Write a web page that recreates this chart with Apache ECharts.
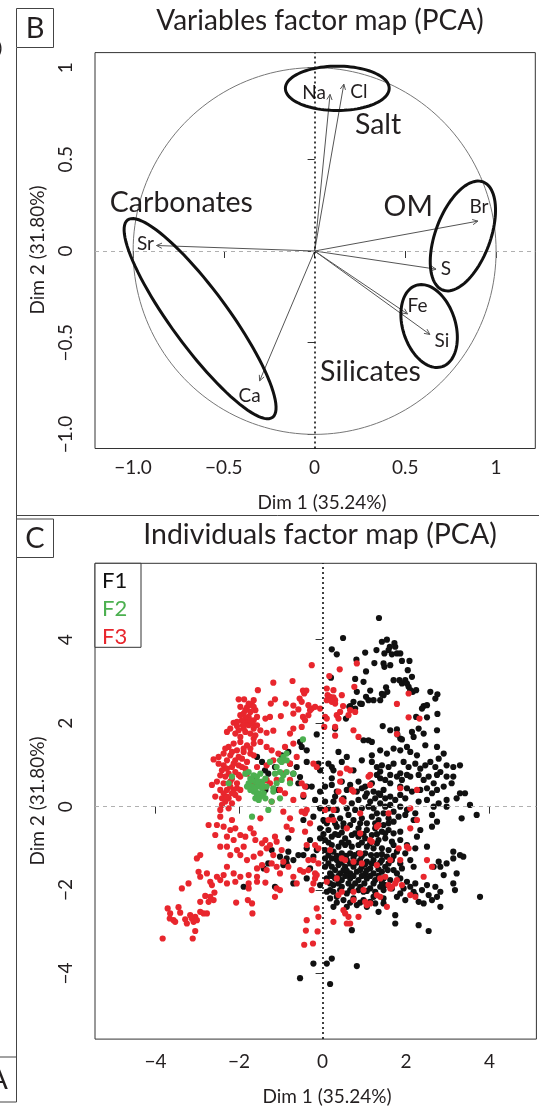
<!DOCTYPE html>
<html>
<head>
<meta charset="utf-8">
<script src="https://cdn.jsdelivr.net/npm/echarts@6/dist/echarts.min.js"></script>
<style>
  html, body { margin: 0; padding: 0; background: #fff; }
  #chart { width: 539px; height: 1108px; }
</style>
</head>
<body>
<div id="chart"></div>
<script>
// ---- panel B: variable coordinates (Dim 1, Dim 2)
const varNames = ['Na', 'Cl', 'Sr', 'Br', 'S', 'Fe', 'Si', 'Ca'];
const varDim1 = [0.085, 0.161, -0.871, 0.900, 0.669, 0.512, 0.635, -0.303];
const varDim2 = [0.854, 0.910, 0.030, 0.163, -0.099, -0.343, -0.455, -0.708];
const groupNames = ['Salt', 'OM', 'Silicates', 'Carbonates'];

// ---- shared axis ticks
const bTicks = [-1, -0.5, 0, 0.5, 1];
const bTickLabels = ['\u22121.0', '\u22120.5', '0', '0.5', '1'];
const cTicks = [-4, -2, 0, 2, 4];
const cTickLabels = ['\u22124', '\u22122', '0', '2', '4'];

// ---- panel C: individuals (Dim 1, Dim 2) by group
const f1Points = [
  [1.35,4.52],[0.49,4.04],[0.22,3.77],[0.34,3.65],[1.42,3.95],[1.54,4.00],[1.72,3.92],[1.61,3.83],[1.74,3.83],[1.48,3.67],
  [1.58,3.75],[1.78,3.67],[1.86,3.67],[1.66,3.65],[1.02,3.69],[1.29,3.75],[0.81,3.52],[1.24,3.44],[1.46,3.43],[1.48,3.35],
  [1.62,3.39],[1.90,3.49],[2.08,3.49],[1.04,3.24],[2.04,3.27],[0.20,3.09],[0.78,3.06],[0.98,2.99],[1.70,3.03],[1.84,3.03],
  [1.98,3.03],[1.90,2.95],[2.02,2.95],[2.14,3.11],[2.06,2.87],[2.10,2.79],[2.16,2.75],[2.24,2.79],[1.52,2.86],[1.55,2.75],
  [1.42,2.70],[1.46,2.67],[0.82,2.75],[1.14,2.78],[1.04,2.63],[1.10,2.55],[1.22,2.55],[1.38,2.55],[0.74,2.51],[0.90,2.47],
  [0.94,2.46],[0.66,2.41],[0.78,2.35],[2.58,2.75],[2.70,2.59],[2.75,2.69],[2.42,2.41],[2.38,2.35],[2.50,2.43],[2.75,2.22],
  [2.50,2.14],[2.24,2.15],[1.44,1.93],[1.62,1.83],[1.78,1.85],[1.86,1.63],[1.90,1.61],[1.79,1.73],[2.14,1.79],[2.18,1.67],
  [2.30,1.87],[2.42,1.75],[2.74,1.83],[0.64,2.39],[0.56,2.11],[0.30,1.87],[-0.14,1.73],[-0.54,1.55],[-0.50,1.43],
  [-1.57,1.19],[-1.45,1.07],[-1.65,0.71],[-1.38,0.87],[-1.30,0.79],[-1.14,0.95],[-0.98,1.23],[-0.82,1.31],[-0.78,1.03],[-0.62,0.95],
  [-0.70,0.79],[-0.54,0.71],[-0.58,0.56],[-1.37,0.40],[-1.06,0.40],[-0.82,-0.76],[-1.22,-1.04],[-0.82,-1.08],[-1.02,-1.20],
  [-0.86,-1.24],[-0.70,-1.28],[-0.58,-1.16],[-1.30,-1.36],[-1.41,-1.48],[-0.94,-1.40],[-0.86,-1.36],[-1.89,-1.92],[-1.14,-1.92],[-0.70,-1.84],
  [1.10,1.59],[1.18,1.55],[0.98,1.59],[1.38,1.35],[1.54,1.27],[1.70,1.39],[1.86,1.35],[2.02,1.43],[2.10,1.31],[2.26,1.23],
  [2.46,1.47],[2.74,1.43],[2.90,1.27],[2.78,1.15],[0.58,1.19],[0.38,1.31],[-0.38,1.35],[1.18,1.23],
  [2.97,0.99],[3.13,0.95],[3.29,0.99],[2.97,0.72],[3.13,0.72],[3.09,0.56],[2.90,0.48],[3.29,0.32],[3.41,0.32],[3.21,0.20],
  [2.97,0.16],[3.53,0.04],[3.69,-0.20],[3.33,-0.28],[2.97,0.00],[2.90,-1.64],[3.21,-1.60],[2.97,-1.36],[3.13,-1.24],[3.29,-1.16],
  [3.37,-1.20],[3.13,-1.08],[2.82,0.83],[2.82,-1.44],
  [3.13,-1.84],[3.17,-2.00],[3.77,-2.16],[1.74,-2.60],[1.74,-2.80],[2.30,-2.84],[2.54,-2.98],[0.70,-2.96],[-0.22,-3.76],[0.10,-3.76],
  [0.22,-3.64],[0.82,-3.82],[-0.54,-4.11],[0.18,-4.25],[1.34,-2.52],[2.82,-2.40],
  [-0.10,1.03],[0.14,1.03],[0.22,0.95],[0.46,1.07],[0.94,1.11],[1.18,1.07],[1.30,0.95],[1.42,0.99],[1.38,0.84],[1.58,0.95],
  [1.70,1.03],[1.94,1.07],[2.06,0.95],[2.22,1.03],[2.34,0.91],[2.46,0.99],[2.58,1.07],[2.70,0.95],[1.86,0.80],[2.02,0.76],
  [1.62,0.76],[1.30,0.76],[0.74,0.87],[0.26,0.87],[-0.38,1.07],[-0.06,0.87],
  [-0.26,0.48],[0.06,0.48],[0.22,0.68],[0.22,0.52],[0.46,0.60],[0.66,0.52],[0.86,0.60],[0.94,0.44],[1.02,0.48],[1.18,0.56],
  [1.38,0.68],[1.50,0.64],[1.62,0.56],[1.78,0.72],[1.90,0.64],[2.10,0.72],[2.30,0.76],[2.42,0.64],[2.54,0.72],[2.66,0.56],
  [2.74,0.76],[1.86,0.48],[2.02,0.44],[2.14,0.36],[2.34,0.40],[2.50,0.44],[1.46,0.40],[1.34,0.32],[1.22,0.36],[1.06,0.32],
  [0.82,0.36],[0.58,0.40],[0.34,0.36],[-0.06,0.36],[-0.38,0.48],[2.62,0.32],[2.74,0.40],
  [-0.46,0.24],[-0.18,0.16],[0.06,0.12],[0.26,0.12],[0.30,0.24],[0.50,0.20],[0.70,0.08],[0.86,0.16],[1.02,0.24],[1.14,0.12],
  [1.26,0.20],[1.38,0.28],[1.50,0.20],[1.62,0.24],[1.74,0.16],[1.86,0.28],[1.98,0.20],[1.38,0.08],[1.50,0.00],[1.62,0.04],
  [1.22,-0.04],[1.10,0.00],[0.94,-0.04],[0.78,-0.08],[0.58,-0.04],[0.34,-0.08],[0.14,-0.04],[-0.06,-0.04],[1.86,0.00],[2.02,-0.08],
  [2.30,0.12],[2.50,0.16],[2.66,0.00],[2.78,0.08],[2.22,-0.16],[1.70,-0.12],[1.46,-0.16],[1.30,-0.16],
  [-0.46,-0.32],[-0.22,-0.24],[0.02,-0.32],[0.22,-0.24],[0.42,-0.28],[0.62,-0.20],[0.74,-0.32],[0.94,-0.28],[1.06,-0.40],[1.18,-0.24],
  [1.34,-0.32],[1.46,-0.44],[1.58,-0.28],[1.70,-0.36],[1.82,-0.24],[1.98,-0.20],[2.18,-0.32],[2.34,-0.56],[2.62,-0.20],[0.50,-0.48],
  [0.34,-0.48],[0.14,-0.56],[-0.06,-0.52],[0.66,-0.44],[0.86,-0.52],[1.06,-0.56],[1.26,-0.52],[1.42,-0.60],[1.58,-0.56],[1.70,-0.64],
  [1.86,-0.60],[2.26,-0.72],[2.62,-0.48],[2.74,-0.36],
  [-0.30,-0.80],[-0.06,-0.76],[0.06,-0.80],[0.22,-0.72],[0.38,-0.68],[0.54,-0.76],[0.70,-0.68],[0.86,-0.72],[1.02,-0.76],[1.18,-0.68],
  [1.34,-0.80],[1.50,-0.76],[1.66,-0.84],[1.86,-0.80],[2.02,-0.92],[0.22,-0.92],[0.38,-0.96],[0.54,-0.92],[0.70,-0.96],[0.86,-0.92],
  [1.06,-0.96],[1.22,-1.00],[1.42,-1.00],[1.58,-1.04],[1.78,-1.08],[1.98,-1.12],[2.22,-1.00],[2.50,-0.96],[-0.38,-1.00],[-0.14,-1.04],
  [0.06,-1.04],[0.26,-1.08],[0.46,-1.12],[0.66,-1.12],[0.86,-1.12],[1.02,-1.12],[1.30,-1.16],[1.54,-1.20],
  [-0.46,-1.16],[-0.22,-1.20],[0.06,-1.24],[0.22,-1.24],[0.34,-1.28],[0.58,-1.28],[0.74,-1.24],[0.90,-1.28],[1.06,-1.32],[1.22,-1.28],
  [1.42,-1.28],[1.66,-1.28],[1.86,-1.36],[2.10,-1.28],[0.06,-1.44],[0.22,-1.44],[0.38,-1.40],[0.54,-1.44],[0.74,-1.44],[0.94,-1.44],
  [1.14,-1.48],[1.30,-1.40],[1.50,-1.44],[1.70,-1.52],[1.90,-1.48],[2.18,-1.44],[2.66,-1.44],[2.78,-1.32],[-0.30,-1.48],[0.18,-1.60],
  [0.42,-1.60],[0.66,-1.60],[0.82,-1.56],[1.02,-1.60],[1.22,-1.60],[1.42,-1.56],[1.78,-1.60],
  [-0.38,-1.72],[0.10,-1.72],[0.30,-1.72],[0.46,-1.76],[0.66,-1.72],[0.86,-1.76],[1.06,-1.72],[1.26,-1.76],[1.46,-1.72],[1.62,-1.76],
  [1.86,-1.72],[2.02,-1.80],[2.22,-1.84],[0.26,-1.88],[0.46,-1.92],[0.70,-1.92],[0.90,-1.92],[1.14,-1.96],[1.38,-1.92],[1.50,-1.88],
  [1.66,-1.96],[1.94,-1.96],[2.10,-1.92],[2.38,-2.00],[2.50,-1.88],[2.70,-1.92],[2.82,-2.04],[-0.06,-1.88],[0.10,-2.04],[0.26,-2.04],
  [0.58,-2.08],[0.98,-2.04],[1.26,-2.04],[1.86,-2.08],[2.18,-2.04],
  [0.18,-2.20],[0.34,-2.16],[0.50,-2.24],[0.74,-2.20],[0.98,-2.24],[1.22,-2.16],[1.46,-2.20],[1.78,-2.16],[1.98,-2.24],[2.22,-2.12],
  [2.42,-2.32],[2.62,-2.24],[2.74,-2.16],[0.26,-2.40],[0.58,-2.40],[0.82,-2.36],[1.06,-2.40],[1.26,-2.32],[1.46,-2.32],[2.30,-2.28],
  [2.54,-2.12],
  [0.10,-0.40],[0.30,-0.40],[0.50,-0.40],[0.90,-0.40],[1.26,-0.40],[1.58,-0.40],
  [0.02,-0.66],[0.30,-0.66],[0.46,-0.62],[0.78,-0.64],[0.98,-0.66],[1.30,-0.66],[1.50,-0.64],
  [0.14,-0.86],[0.46,-0.86],[0.62,-0.86],[0.94,-0.86],[1.14,-0.88],[1.30,-0.88],[1.70,-0.92],
  [0.14,-1.16],[0.34,-1.18],[0.56,-1.18],[0.76,-1.16],[0.94,-1.18],[1.16,-1.16],[1.42,-1.14],[1.70,-1.18],
  [0.14,-1.36],[0.46,-1.34],[0.66,-1.36],[0.82,-1.34],[1.02,-1.38],[1.18,-1.36],[1.38,-1.34],[1.58,-1.36],
  [0.30,-1.52],[0.50,-1.52],[0.58,-1.54],[0.90,-1.52],[1.06,-1.52],[1.34,-1.50],[1.56,-1.52],
  [0.22,-1.66],[0.38,-1.66],[0.54,-1.66],[0.74,-1.66],[0.94,-1.66],[1.14,-1.66],[1.34,-1.66],
  [0.18,-1.84],[0.38,-1.84],[0.62,-1.84],[0.78,-1.84],[1.00,-1.84],[1.22,-1.84],[1.42,-1.82],
  [0.18,-2.00],[0.42,-2.00],[0.66,-2.00],[0.86,-2.00],[1.06,-2.02],[1.46,-2.00],
  [0.34,-2.30],[0.66,-2.30],[0.90,-2.30],[1.14,-2.28]
];
const f2Points = [
  [-1.85,0.79],[-1.77,0.83],[-1.65,0.75],[-1.73,0.67],[-1.57,0.72],[-1.49,0.79],[-1.37,0.67],[-1.45,0.60],[-1.61,0.60],[-1.77,0.56],
  [-1.81,0.48],[-1.69,0.48],[-1.57,0.48],[-1.45,0.44],[-1.34,0.48],[-1.65,0.36],[-1.53,0.32],[-1.41,0.32],[-1.49,0.24],[-1.61,0.20],
  [-1.53,0.16],[-1.37,0.20],[-1.22,0.12],[-1.02,0.20],[-1.18,0.36],[-1.18,0.44],[-1.10,0.56],[-0.98,0.64],[-0.94,0.75],[-1.02,0.83],
  [-1.10,0.95],[-0.98,1.07],[-0.86,0.83],[-0.78,0.56],[-1.02,1.11],[-0.94,1.19],[-0.86,1.27],[-1.26,1.07],[-1.14,0.79],[-2.17,0.72],
  [-2.25,0.56],[-1.30,-0.08],[-1.69,-0.24],[-0.86,1.11],[-0.70,0.79],[-0.47,1.61],
  [-1.69,0.63],[-1.53,0.60],[-1.61,0.40],[-1.45,0.52],[-1.73,0.40],[-1.57,0.28]
];
const f3Points = [
  [-0.26,3.39],[-1.18,2.97],[-0.72,3.01],[-1.55,2.79],[-0.47,2.78],[-0.39,2.78],[-0.44,2.71],[-2.01,2.57],[-1.88,2.57],[-1.14,2.57],
  [-1.24,2.47],[-0.88,2.47],[-0.70,2.42],[-0.55,2.59],[-0.50,2.51],[-0.34,2.43],[-0.26,2.35],[-0.18,2.39],[-0.30,2.31],[-0.70,2.23],
  [-0.58,2.33],[-0.47,2.15],[-0.42,2.07],[-0.34,2.19],[-1.97,2.39],[-1.81,2.38],[-1.69,2.43],[-1.65,2.55],[-1.61,2.31],[-1.73,2.27],
  [-1.89,2.23],[-1.77,2.15],[-1.85,2.11],[-1.93,2.07],[-2.05,2.03],[-2.13,2.01],[-1.81,2.01],[-1.65,2.07],[-1.57,2.15],[-1.69,1.99],
  [-1.91,1.95],[-2.05,1.93],[-1.37,2.11],[-1.26,2.15],[-1.00,2.17],[-1.18,1.82],[-1.34,1.77],[-1.49,1.83],[-1.65,1.87],[-0.78,1.75],
  [-0.50,1.91],[-0.70,1.87],[-2.21,1.87],[-2.29,1.79],[-2.09,1.75],[-1.97,1.67],[-1.65,1.63],
  [0.41,3.29],[0.16,3.13],[0.76,2.87],[2.06,2.71],[1.78,2.46],[0.10,2.83],[0.26,2.79],[0.12,2.67],[0.18,2.63],[0.26,2.62],
  [0.30,2.55],[0.10,2.55],[0.22,2.51],[0.30,2.47],[0.46,2.67],[0.49,2.41],[0.42,2.27],[0.66,2.31],[0.62,2.19],[0.78,2.27],
  [0.34,2.19],[0.38,2.11],[0.06,2.15],[0.10,2.11],[0.04,1.91],[0.30,1.91],[0.30,1.70],[0.74,1.83],[0.86,1.67],[2.06,2.14],
  [2.32,2.11],[1.78,1.74],[0.82,3.43],[-0.06,2.35],
  [-2.25,1.43],[-2.13,1.51],[-1.97,1.55],[-1.81,1.47],[-1.65,1.51],[-1.49,1.55],[-2.05,1.35],[-1.89,1.31],[-1.73,1.27],[-2.21,1.23],
  [-2.37,1.27],[-2.29,1.11],[-2.09,1.11],[-1.93,1.15],[-1.81,1.07],[-1.65,1.23],[-2.17,0.95],[-2.01,0.99],[-1.85,0.91],[-2.37,0.99],
  [-2.49,1.03],[-2.61,1.13],[-2.25,0.79],[-2.09,0.83],[-1.97,0.72],[-1.81,0.79],[-2.45,0.75],[-2.53,0.60],[-2.65,0.52],[-2.37,0.56],
  [-2.21,0.60],[-2.05,0.56],[-2.29,0.40],[-2.13,0.40],[-1.97,0.40],[-2.45,0.40],[-2.57,0.24],[-2.41,0.20],[-2.25,0.20],[-2.09,0.28],
  [-2.33,0.12],[-2.17,0.08],[-2.45,-0.08],[-2.45,-0.24],[-2.53,-0.44],[-2.73,-0.44],[-2.57,-0.68],[-2.37,-0.48],[-2.17,-0.32],[-2.21,-0.56],
  [-2.09,-0.52],[-2.29,-0.72],[-2.13,-0.80],[-1.97,-0.68],[-1.85,-0.72],[-1.73,-0.52],[-1.65,-0.64],[-1.89,-0.96],[-2.05,-1.04],[-2.29,-0.96],
  [-2.45,-0.96],[-2.21,-1.16],[-1.97,-1.16],[-1.81,-1.28],[-1.65,-1.20],[-1.49,-1.12],[-1.34,-1.00],[-1.45,-0.88],[-1.37,-0.80],[-1.26,-0.92],
  [-1.10,-0.84],[-0.98,-1.04],[-1.18,-1.16],[-1.10,-1.44],[-0.94,-1.32],[-1.22,-1.36],[-1.45,-1.40],[-1.57,-1.48],[-1.34,-1.52],[-1.02,-1.60],
  [-0.82,-1.44],[-0.70,-1.68],[-1.57,-1.68],[-1.77,-1.64],[-1.97,-1.68],[-2.13,-1.60],
  [-2.29,-1.44],[-2.37,-1.64],[-2.53,-1.68],[-2.77,-1.60],[-2.93,-1.16],[-3.01,-1.24],[-2.97,-1.56],[-2.93,-1.68],[-1.49,0.56],[-1.26,0.56],
  [-1.10,0.64],[-1.02,0.40],[-0.90,0.32],[-0.70,0.16],[-1.49,-0.28],[-1.22,0.12],[-0.94,-0.12],[-0.78,-0.28],[-0.86,-0.48],[-0.74,-0.56],
  [-1.14,-0.72],[-1.61,-0.80],[-1.57,0.95],[-1.34,0.99],[-1.18,1.11],[-0.94,1.11],[-0.78,1.03],[-0.62,1.19],[-1.06,1.27],[-1.22,1.35],
  [-1.34,1.43],[-0.90,1.43],[-0.70,1.51],[-0.94,0.79],[-0.78,0.64],[-1.65,0.56],[-1.37,0.48],[-1.34,0.64],
  [0.54,-2.56],[0.62,-2.64],[0.58,-2.80],[0.66,-2.80],[0.86,-2.64],[0.26,-2.76],[0.50,-2.48],
  [-3.37,-1.96],[-3.21,-1.84],[-2.69,-1.80],[-2.65,-1.88],[-2.45,-1.76],[-2.29,-1.84],[-2.09,-1.80],[-1.77,-1.84],[-1.77,-1.96],[-1.37,-1.82],
  [-1.10,-1.96],[-1.02,-2.00],[-1.14,-2.16],[-0.62,-1.84],[-2.81,-2.14],[-2.69,-2.16],[-2.61,-2.24],[-2.73,-2.28],[-2.93,-2.28],
  [-2.59,-2.06],[-2.93,-2.52],[-2.85,-2.56],[-2.77,-2.56],[-3.05,-2.64],[-3.17,-2.60],[-3.13,-2.68],[-3.25,-2.80],[-3.09,-2.76],[-3.01,-2.72],
  [-3.41,-2.54],[-3.45,-2.41],[-3.71,-2.44],[-3.65,-2.56],[-3.66,-2.68],[-3.57,-2.72],[-3.53,-2.76],[-3.29,-2.70],[-3.05,-2.98],[-3.11,-3.16],
  [-3.83,-3.16],[-2.07,-2.30],[-1.79,-2.24],[-1.69,-2.32],[-1.68,-2.56],[-0.38,-2.72],[-0.40,-2.97],[-0.12,-2.99],[-0.10,-2.64],
  [-0.44,-3.31],[-0.23,-3.28],[-1.57,-1.80],
  [-0.22,1.03],[-0.14,0.95],[0.58,0.91],[0.66,0.87],[0.42,0.80],[1.10,0.72],[1.14,0.76],
  [-0.50,0.56],[-0.42,0.48],[0.42,0.60],[0.70,0.40],[0.74,0.36],[1.14,0.52],[1.86,0.44],[2.26,0.40],[0.38,0.36],
  [-0.46,0.28],[0.46,0.16],[0.50,0.12],[2.10,-0.04],[1.58,-0.16],[0.90,-0.16],[0.26,-0.08],[0.06,-0.08],[-0.50,-0.12],[-0.42,-0.16],
  [-0.38,-0.08],[0.14,-0.32],[0.26,-0.32],[-0.30,-0.40],[-0.42,-0.60],[0.58,-0.52],[1.30,-0.48],[1.34,-0.44],[2.10,-0.52],[2.26,-0.32],
  [-0.38,-0.92],[-0.18,-0.92],[-0.10,-1.00],[0.90,-0.64],[1.14,-0.80],[1.18,-0.84],[0.18,-1.04],[1.82,-1.00],[2.02,-0.96],[2.06,-1.00],
  [-0.34,-1.28],[-0.22,-1.28],[-0.10,-1.36],[0.46,-1.24],[0.54,-1.28],[0.74,-1.32],[0.90,-1.12],[0.94,-1.36],[1.30,-1.40],[1.62,-1.28],
  [1.86,-1.28],[2.50,-1.28],[2.62,-1.44],[-0.54,-1.52],[-0.46,-1.56],[-0.34,-1.52],[-0.18,-1.60],[-0.14,-1.64],
  [-0.22,-1.84],[-0.18,-1.72],[0.10,-1.80],[0.34,-1.72],[1.38,-1.72],[1.50,-1.68],[1.58,-1.88],[1.74,-1.84],[1.78,-1.76],[1.62,-1.96],
  [1.66,-1.92],[2.42,-1.68],[1.90,-1.88],[-0.26,-2.00],[0.46,-2.04],[0.74,-2.04],[0.98,-2.00],
  [0.38,-2.12],[0.74,-2.24],[1.02,-2.28],[1.06,-2.36],[1.14,-2.32],[1.30,-2.12],[1.38,-2.16],[1.54,-2.40],[2.10,-2.12],[2.22,-2.16],
  [-0.14,-2.44],
  [-2.33,1.39],[-2.17,1.31],[-2.01,1.19],[-2.13,1.03],[-2.29,0.91],[-1.93,0.95],[-2.41,0.87],[-2.17,0.67],[-2.33,0.72],[-2.01,0.76],
  [-2.21,0.48],[-2.05,0.44],[-2.37,0.32],[-2.17,0.32],[-2.29,0.24],[-2.01,0.20],[-2.41,0.04],[-2.25,-0.04],[-1.89,1.39],[-1.73,1.39],
  [-2.49,1.19],[-1.85,1.79],[-1.73,1.75],[-1.61,1.71],[-1.89,1.87],[-2.01,1.83],[-1.77,1.95],[-1.57,1.95],[-1.97,2.19],[-1.73,2.07],
  [-1.85,2.31],[-1.65,2.39],[-1.77,2.47]
];

const FONT = 'Lato';
const INK = '#231f20';

// label offsets (px) from arrow tips, hand-placed like the original
const labelOffset = {
  Na: [-16, -2], Cl: [15, 8], Sr: [-11, -2], Br: [1, -14],
  S: [10, 0], Fe: [10, -8], Si: [12, 6], Ca: [-10, 15]
};
// hand-drawn group outlines in panel B: centre, semi-axes, angle (deg), label anchor
const groupShapes = [
  { c: [0.125, 0.887], a: 0.286, b: 0.121, deg: 0, label: [0.350, 0.690] },
  { c: [0.817, 0.082], a: 0.315, b: 0.151, deg: 69.3, label: [0.516, 0.243] },
  { c: [0.631, -0.409], a: 0.233, b: 0.145, deg: 108, label: [0.308, -0.661] },
  { c: [-0.631, -0.369], a: 0.670, b: 0.156, deg: 126.6, label: [-0.734, 0.262] }
];

function tickFormatter(ticks, labels) {
  return function (v) {
    for (let i = 0; i < ticks.length; i++) {
      if (Math.abs(ticks[i] - v) < 1e-9) return labels[i];
    }
    return '';
  };
}

function makeAxis(grid, min, max, ticks, labels, isY, margin) {
  return {
    type: 'value', gridIndex: grid, min: min, max: max,
    axisLine: { show: false },
    splitLine: { show: false },
    axisTick: { show: true, length: 7, customValues: ticks, lineStyle: { color: '#333', width: 1 } },
    axisLabel: {
      customValues: ticks, formatter: tickFormatter(ticks, labels),
      fontSize: 19, fontFamily: FONT, color: INK, margin: margin,
      rotate: isY ? 90 : 0
    }
  };
}

const chart = echarts.init(document.getElementById('chart'));

const circleSeries = {
  type: 'custom', xAxisIndex: 0, yAxisIndex: 0, silent: true,
  data: [[0, 0]],
  renderItem: function (params, api) {
    const pts = [];
    for (let i = 0; i <= 180; i++) {
      const t = i / 180 * Math.PI * 2;
      pts.push(api.coord([Math.cos(t), Math.sin(t)]));
    }
    return { type: 'polyline', shape: { points: pts }, style: { stroke: '#777', lineWidth: 1, fill: null } };
  },
  z: 2
};

const refLinesB = {
  type: 'line', xAxisIndex: 0, yAxisIndex: 0, data: [], showSymbol: false, silent: true,
  markLine: {
    symbol: 'none', silent: true, label: { show: false },
    data: [
      { xAxis: 0, lineStyle: { color: '#000', width: 1.5, type: [2, 3] } },
      { yAxis: 0, lineStyle: { color: '#b0b0b0', width: 1, type: [4, 4] } }
    ]
  }
};

const arrowSeries = {
  type: 'custom', xAxisIndex: 0, yAxisIndex: 0, silent: true,
  data: varNames.map((n, i) => [varDim1[i], varDim2[i]]),
  renderItem: function (params, api) {
    const p0 = api.coord([0, 0]);
    const p1 = api.coord([api.value(0), api.value(1)]);
    const ang = Math.atan2(p1[1] - p0[1], p1[0] - p0[0]);
    const h = 6, w = 0.45;
    const a1 = [p1[0] - h * Math.cos(ang - w), p1[1] - h * Math.sin(ang - w)];
    const a2 = [p1[0] - h * Math.cos(ang + w), p1[1] - h * Math.sin(ang + w)];
    const name = varNames[params.dataIndex];
    const off = labelOffset[name];
    return {
      type: 'group',
      children: [
        { type: 'line', shape: { x1: p0[0], y1: p0[1], x2: p1[0], y2: p1[1] }, style: { stroke: '#555', lineWidth: 1 } },
        { type: 'polyline', shape: { points: [a1, p1, a2] }, style: { stroke: '#555', lineWidth: 1, fill: null } },
        { type: 'text', x: p1[0] + off[0], y: p1[1] + off[1],
          style: { text: name, fill: INK, fontSize: 19, fontFamily: FONT, align: 'center', verticalAlign: 'middle' } }
      ]
    };
  },
  z: 4
};

const groupSeries = {
  type: 'custom', xAxisIndex: 0, yAxisIndex: 0, silent: true,
  data: groupNames.map((n, i) => [groupShapes[i].c[0], groupShapes[i].c[1]]),
  renderItem: function (params, api) {
    const g = groupShapes[params.dataIndex];
    const th = g.deg * Math.PI / 180;
    const c = api.coord(g.c);
    const pa = api.coord([g.c[0] + g.a * Math.cos(th), g.c[1] + g.a * Math.sin(th)]);
    const pb = api.coord([g.c[0] - g.b * Math.sin(th), g.c[1] + g.b * Math.cos(th)]);
    const u = [pa[0] - c[0], pa[1] - c[1]];
    const v = [pb[0] - c[0], pb[1] - c[1]];
    const pts = [];
    for (let i = 0; i < 96; i++) {
      const t = i / 96 * Math.PI * 2;
      pts.push([c[0] + u[0] * Math.cos(t) + v[0] * Math.sin(t), c[1] + u[1] * Math.cos(t) + v[1] * Math.sin(t)]);
    }
    const lp = api.coord(g.label);
    return {
      type: 'group',
      children: [
        { type: 'polygon', shape: { points: pts }, style: { stroke: '#111', lineWidth: 3, fill: null } },
        { type: 'text', x: lp[0], y: lp[1],
          style: { text: groupNames[params.dataIndex], fill: INK, fontSize: 28.5, fontFamily: FONT, align: 'center', verticalAlign: 'middle' } }
      ]
    };
  },
  z: 5
};

function scatter(name, pts, color, z) {
  return {
    name: name, type: 'scatter', xAxisIndex: 1, yAxisIndex: 1,
    data: pts, symbolSize: 6.2, itemStyle: { color: color, opacity: 1 }, z: z, silent: true
  };
}

const refLinesC = {
  type: 'line', xAxisIndex: 1, yAxisIndex: 1, data: [], showSymbol: false, silent: true,
  markLine: {
    symbol: 'none', silent: true, label: { show: false },
    data: [
      { xAxis: 0, lineStyle: { color: '#000', width: 1.5, type: [2, 3] } },
      { yAxis: 0, lineStyle: { color: '#b0b0b0', width: 1, type: [4, 4] } }
    ]
  }
};

function boxText(text, x, y, size, rotate) {
  return { type: 'text', x: x, y: y, rotation: rotate ? Math.PI / 2 : 0,
    style: { text: text, fill: INK, fontSize: size, fontFamily: FONT, align: 'center', verticalAlign: 'middle' } };
}

chart.setOption({
  animation: false,
  backgroundColor: '#fff',
  title: [
    { text: 'Variables factor map (PCA)', left: 320, top: 7, textAlign: 'center', padding: 0,
      textStyle: { fontSize: 28, fontWeight: 'normal', fontFamily: FONT, color: INK } },
    { text: 'Individuals factor map (PCA)', left: 320, top: 520, textAlign: 'center', padding: 0,
      textStyle: { fontSize: 28.5, fontWeight: 'normal', fontFamily: FONT, color: INK } }
  ],
  grid: [
    { left: 95, top: 52.6, width: 440.3, height: 395.9, show: true, borderColor: '#333', borderWidth: 1, backgroundColor: 'transparent' },
    { left: 95, top: 563.3, width: 441.4, height: 475.8, show: true, borderColor: '#333', borderWidth: 1, backgroundColor: 'transparent' }
  ],
  xAxis: [
    makeAxis(0, -1.21, 1.216, bTicks, bTickLabels, false, 10),
    makeAxis(1, -5.45, 5.12, cTicks, cTickLabels, false, 13)
  ],
  yAxis: [
    makeAxis(0, -1.077, 1.082, bTicks, bTickLabels, true, 20),
    makeAxis(1, -5.57, 5.83, cTicks, cTickLabels, true, 20)
  ],
  graphic: [
    // panel frame
    { type: 'line', shape: { x1: 16.5, y1: 48, x2: 16.5, y2: 1057 }, style: { stroke: '#444', lineWidth: 1 } },
    { type: 'line', shape: { x1: 16.5, y1: 515.5, x2: 539, y2: 515.5 }, style: { stroke: '#444', lineWidth: 1 } },
    { type: 'rect', shape: { x: 16.5, y: 8.5, width: 37, height: 39 }, style: { stroke: '#444', lineWidth: 1, fill: '#fff' } },
    boxText('B', 35, 28.5, 29, false),
    { type: 'rect', shape: { x: 16.5, y: 519, width: 37, height: 38.5 }, style: { stroke: '#444', lineWidth: 1, fill: '#fff' } },
    boxText('C', 35, 538.5, 29, false),
    { type: 'rect', shape: { x: -2, y: 1057, width: 18.5, height: 45 }, style: { stroke: '#444', lineWidth: 1, fill: '#fff' } },
    boxText('A', -2, 1080, 29, false),
    boxText(')', 0, 48, 18, false),
    // axis titles
    boxText('Dim 1 (35.24%)', 322, 502.5, 19, false),
    boxText('Dim 2 (31.80%)', 38, 250, 19, true),
    boxText('Dim 1 (35.24%)', 327, 1097, 19, false),
    boxText('Dim 2 (31.80%)', 38, 801, 19, true),
    // legend of panel C
    { type: 'rect', shape: { x: 95, y: 563.3, width: 46, height: 84 }, style: { stroke: '#333', lineWidth: 1, fill: '#fff' }, z: 10 },
    { type: 'text', x: 102, y: 580.5, z: 11, style: { text: 'F1', fill: '#111', fontSize: 22, fontFamily: FONT, align: 'left', verticalAlign: 'middle' } },
    { type: 'text', x: 102, y: 608.5, z: 11, style: { text: 'F2', fill: '#4cb050', fontSize: 22, fontFamily: FONT, align: 'left', verticalAlign: 'middle' } },
    { type: 'text', x: 102, y: 636.5, z: 11, style: { text: 'F3', fill: '#e8262d', fontSize: 22, fontFamily: FONT, align: 'left', verticalAlign: 'middle' } }
  ],
  series: [
    refLinesB,
    circleSeries,
    arrowSeries,
    groupSeries,
    refLinesC,
    scatter('F1', f1Points, '#111111', 3),
    scatter('F3', f3Points, '#e8262d', 4),
    scatter('F2', f2Points, '#4cb050', 5)
  ]
});
</script>
</body>
</html>
